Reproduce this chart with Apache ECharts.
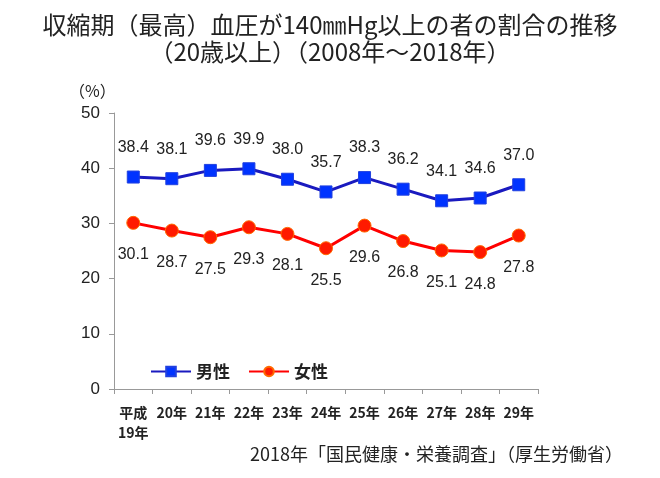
<!DOCTYPE html>
<html>
<head>
<meta charset="utf-8">
<script src="https://cdn.jsdelivr.net/npm/echarts@6/dist/echarts.min.js"></script>
<style>html,body{margin:0;padding:0;background:#fff;}#chart{width:660px;height:478px;}</style>
</head>
<body>
<div id="chart"></div>
<script>
var chart = echarts.init(document.getElementById('chart'));//初期化
var years = ['平成\n19年', '20年', '21年', '22年', '23年', '24年', '25年', '26年', '27年', '28年', '29年'];//横軸
var male = [38.4, 38.1, 39.6, 39.9, 38.0, 35.7, 38.3, 36.2, 34.1, 34.6, 37.0];//男性
var female = [30.1, 28.7, 27.5, 29.3, 28.1, 25.5, 29.6, 26.8, 25.1, 24.8, 27.8];//女性
var FONT = '"Noto Sans CJK JP", sans-serif';
var NUM = 'Arial, "Liberation Sans", sans-serif';

var option = {
  backgroundColor: '#fff',
  textStyle: {fontFamily: FONT},
  title: [
    {text: '収縮期（最高）血圧が140㎜Hg以上の者の割合の推移\n（20歳以上）（2008年～2018年）',
     left: 'center', top: 6,
     textStyle: {fontSize: 24, fontWeight: 'normal', color: '#222', lineHeight: 27, fontFamily: FONT}},
    {text: '（%）', left: 64, top: 78,
     textStyle: {fontSize: 16, fontWeight: 'normal', color: '#222', fontFamily: FONT}},
    {text: '2018年「国民健康・栄養調査」（厚生労働省）', right: 32, top: 440,
     textStyle: {fontSize: 18, fontWeight: 'normal', color: '#222', fontFamily: FONT}}
  ],
  legend: {
    left: 145, top: 358, itemGap: 18, itemWidth: 40, itemHeight: 12,
    textStyle: {fontSize: 17, fontWeight: 'bold', color: '#222', fontFamily: FONT},
    data: ['男性', '女性']
  },
  grid: {left: 114, right: 122, top: 113, bottom: 89},
  xAxis: {
    type: 'category', data: years, boundaryGap: true,
    axisLine: {lineStyle: {color: '#999'}},
    axisTick: {show: true, length: 5, lineStyle: {color: '#999'}},
    axisLabel: {fontSize: 14, fontWeight: 'bold', color: '#222', interval: 0, margin: 14, lineHeight: 20,
                fontFamily: FONT}
  },
  yAxis: {
    type: 'value', min: 0, max: 50, interval: 10,
    splitLine: {show: false},
    axisLine: {show: true, lineStyle: {color: '#999'}},
    axisTick: {show: true, length: 5, lineStyle: {color: '#999'}},
    axisLabel: {fontSize: 17, color: '#222', margin: 14, fontFamily: NUM}
  },
  series: [
    {
      name: '男性', type: 'line', data: male,
      symbol: 'rect', symbolSize: 12,
      lineStyle: {color: '#1A1ABF', width: 3},
      itemStyle: {color: '#0033FF', borderColor: '#2040E0', borderWidth: 1},
      label: {show: true, position: 'top', distance: 15, fontSize: 16, color: '#222', fontFamily: NUM,
              formatter: function (p) { return p.value.toFixed(1); }}
    },
    {
      name: '女性', type: 'line', data: female,
      symbol: 'circle', symbolSize: 13,
      lineStyle: {color: '#FF0000', width: 3},
      itemStyle: {color: '#FF1A00', borderColor: '#FF6A00', borderWidth: 1},
      label: {show: true, position: 'bottom', distance: 17, fontSize: 16, color: '#222', fontFamily: NUM,
              formatter: function (p) { return p.value.toFixed(1); }}
    }
  ]
};
chart.setOption(option);//設定
</script>
</body>
</html>
